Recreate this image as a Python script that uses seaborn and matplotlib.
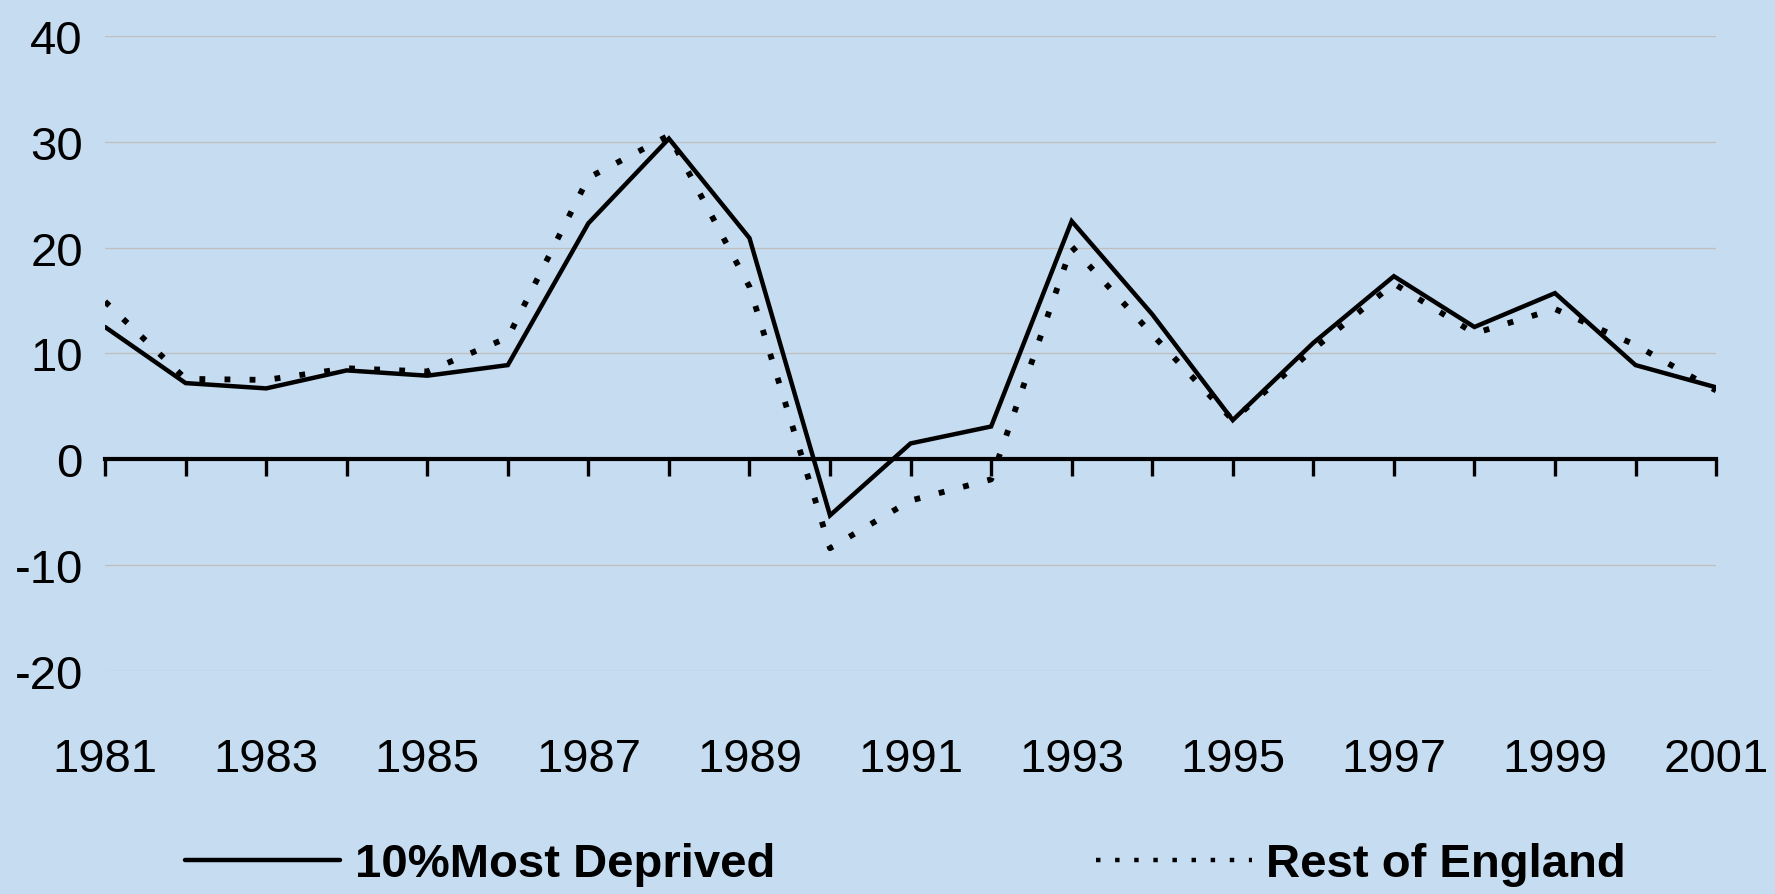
import numpy as np
import pandas as pd
import seaborn as sns
import matplotlib.pyplot as plt

# ---- data ----
years = list(range(1981, 2002))
most_deprived = [12.5, 7.2, 6.7, 8.4, 7.9, 8.9, 22.3, 30.3, 20.9, -5.3, 1.5,
                 3.1, 22.5, 13.7, 3.7, 11.0, 17.3, 12.5, 15.7, 8.9, 6.8]
rest_of_england = [14.9, 7.6, 7.5, 8.6, 8.3, 11.5, 26.6, 30.6, 16.3, -8.4, -3.9,
                   -1.9, 20.1, 11.8, 3.7, 10.4, 16.6, 11.9, 14.2, 10.8, 6.5]
series_names = ['10%Most Deprived', 'Rest of England']
x_labels = years[::2]
y_ticks = [-20, -10, 0, 10, 20, 30, 40]

df = pd.DataFrame({
    'year': years * 2,
    'value': most_deprived + rest_of_england,
    'series': [series_names[0]] * len(years) + [series_names[1]] * len(years),
})

sns.set_style('white')
plt.rcParams['font.family'] = ['Liberation Sans', 'DejaVu Sans']
plt.rcParams['text.color'] = 'black'
plt.rcParams['xtick.color'] = 'black'
plt.rcParams['ytick.color'] = 'black'
plt.rcParams['axes.unicode_minus'] = False

bg = '#C6DCF0'
fig = plt.figure(figsize=(17.75, 8.95), dpi=100, facecolor=bg)
ax = fig.add_axes([0.0592, 0.2492, 0.9076, 0.7095])
ax.set_facecolor(bg)

sns.lineplot(data=df, x='year', y='value', hue='series', style='series',
             palette=['black', 'black'],
             dashes={series_names[0]: '', series_names[1]: (1, 3.3)},
             linewidth=3.2, ax=ax)
lines = ax.get_lines()
lines[1].set_linewidth(4.2)
for ln in lines:
    ln.set_dash_capstyle('butt')
    ln.set_solid_joinstyle('miter')

ax.set_xlim(1981, 2001)
ax.set_ylim(-20, 40)
ax.set_yticks(y_ticks)
ax.yaxis.grid(True, color='#BEBEBE', linewidth=0.9)
ax.set_axisbelow(True)

for s in ['top', 'right', 'left']:
    ax.spines[s].set_visible(False)
ax.spines['bottom'].set_position(('data', 0))
ax.spines['bottom'].set_linewidth(3)
ax.spines['bottom'].set_color('black')
ax.spines['bottom'].set_zorder(5)

ax.set_xticks(x_labels)
ax.set_xticklabels([str(y) for y in x_labels])
ax.set_xticks(years, minor=True)
ax.tick_params(axis='x', which='both', bottom=True, direction='out',
               length=12, width=2.4, color='black')
ax.tick_params(axis='x', which='major', labelsize=34, pad=188)
ax.tick_params(axis='y', left=False, length=0, labelsize=34, pad=16)
ax.set_xlabel('')
ax.set_ylabel('')

handles, labels = ax.get_legend_handles_labels()
ax.legend(handles, labels, loc='center', bbox_to_anchor=(0.51, 0.033),
          bbox_transform=fig.transFigure, ncol=2, frameon=False,
          prop={'size': 34, 'weight': 'bold'}, handlelength=3.3,
          handletextpad=0.3, columnspacing=6.8)

fig.savefig('out.png', dpi=100, facecolor=bg)
